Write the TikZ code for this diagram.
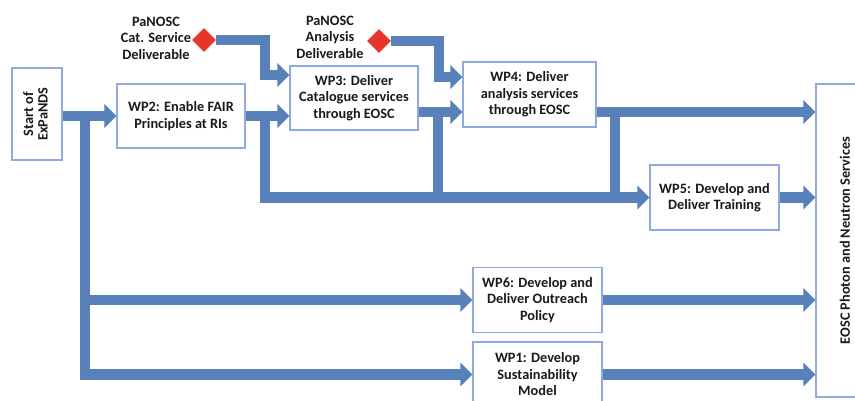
\documentclass[tikz,border=0pt]{standalone}
\usepackage{fontspec}
\setmainfont{Carlito}
\usepackage{graphicx}
\usetikzlibrary{arrows.meta,shapes.geometric}
\definecolor{flowblue}{HTML}{5880B9}
\definecolor{boxblue}{HTML}{8FAADC}
\definecolor{dred}{HTML}{E8352A}
\definecolor{txt}{HTML}{1A1A1A}
\tikzset{
  box/.style={draw=boxblue, line width=1.2pt, fill=white, inner sep=0pt, align=center,
    text=txt, font=\fontsize{14.3}{16.5}\selectfont\bfseries},
  flowline/.style={draw=flowblue, line width=10.5pt, line join=miter},
  flow/.style={flowline, -{Triangle[length=12pt,width=23pt]}},
  dmd/.style={diamond, fill=dred, inner sep=0pt, minimum width=24pt, minimum height=24pt},
  dlabel/.style={align=center, text=txt, inner sep=0pt, font=\fontsize{14.3}{16.5}\selectfont\bfseries}
}
\begin{document}
\begin{tikzpicture}[x=1pt,y=-1pt]
\useasboundingbox (0,0) rectangle (855,400);
% boxes
\node[box, minimum width=50pt, minimum height=92pt] (start) at (37,114)
  {\rotatebox{90}{\begin{tabular}{@{}c@{}}Start of\\[-2pt]ExPaNDS\end{tabular}}};
\node[box, minimum width=128pt, minimum height=64pt] (wp2) at (181,116) {WP2: Enable FAIR\\Principles at RIs};
\node[box, minimum width=128pt, minimum height=64pt] (wp3) at (354,98) {WP3: Deliver\\Catalogue services\\through EOSC};
\node[box, minimum width=133pt, minimum height=65pt] (wp4) at (529.5,94.5) {WP4: Deliver\\analysis services\\through EOSC};
\node[box, minimum width=129pt, minimum height=65pt] (wp5) at (714.5,197.5) {WP5: Develop and\\Deliver Training};
\node[box, minimum width=129pt, minimum height=65pt] (wp6) at (537.5,300) {WP6: Develop and\\Deliver Outreach\\Policy};
\node[box, minimum width=129pt, minimum height=65pt] (wp1) at (537.5,374.5) {WP1: Develop\\Sustainability\\Model};
\node[box, minimum width=58pt, minimum height=313pt] (eosc) at (845,240.5)
  {\rotatebox{90}{EOSC Photon and Neutron Services}};
% deliverables
\node[dmd] (d1) at (204,40) {};
\node[dmd] (d2) at (379,41) {};
\node[dlabel] (l1) at (156,38) {PaNOSC\\Cat. Service\\Deliverable};
\node[dlabel] (l2) at (330,37) {PaNOSC\\Analysis\\Deliverable};
% junction coordinates
\coordinate (j1) at (85,116);
\coordinate (j2) at (265,116);
\coordinate (c1) at (265,75);
\coordinate (c2) at (439,77);
\coordinate (j3) at (438,112);
\coordinate (j3b) at (438,197.5);
\coordinate (j4) at (615,112);
\coordinate (j4b) at (615,197.5);
% connectors
\draw[flow] (start.east |- wp2.west) -- (wp2.west);
\draw[flow] (j1) |- (wp6.west);
\draw[flow] (j1) |- (wp1.west);
\draw[flow] (wp2.east) -- (wp2.east -| wp3.west);
\draw[flow] (j2) |- (wp5.west);
\draw[flow] (d1.east) -| (c1) -- (c1 -| wp3.west);
\draw[flow] (wp3.east |- j3) -- (wp4.west |- j3);
\draw[flowline] (j3) -- (j3b);
\draw[flow] (d2.east) -| (c2) -- (c2 -| wp4.west);
\draw[flow] (wp4.east |- j4) -- (eosc.west |- j4);
\draw[flowline] (j4) -- (j4b);
\draw[flow] (wp5.east) -- (wp5.east -| eosc.west);
\draw[flow] (wp6.east) -- (wp6.east -| eosc.west);
\draw[flow] (wp1.east) -- (wp1.east -| eosc.west);
\end{tikzpicture}
\end{document}
